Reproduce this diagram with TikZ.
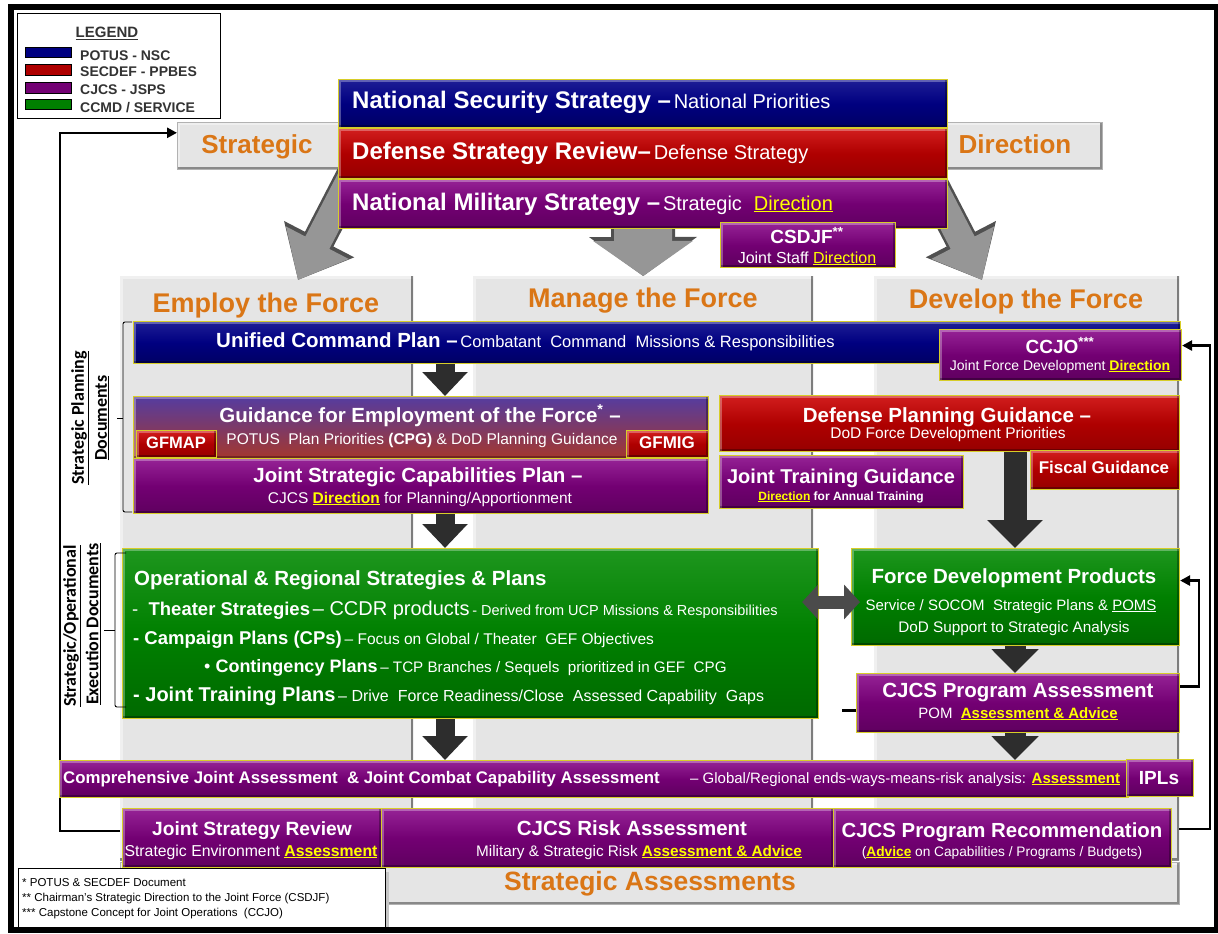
\documentclass[tikz,border=0pt]{standalone}
\usepackage{fontspec}
\setmainfont{Liberation Sans}
\newfontfamily\calfont{Carlito}
\usetikzlibrary{arrows.meta,calc}
\pgfdeclarelayer{base}
\pgfdeclarelayer{back}
\pgfsetlayers{base,back,main}

\definecolor{navyT}{RGB}{30,30,150}
\definecolor{navyM}{RGB}{0,0,128}
\definecolor{navyB}{RGB}{0,0,100}
\definecolor{redT}{RGB}{210,30,30}
\definecolor{redM}{RGB}{175,0,0}
\definecolor{redB}{RGB}{150,0,0}
\definecolor{purT}{RGB}{150,35,150}
\definecolor{purM}{RGB}{115,0,115}
\definecolor{purB}{RGB}{95,0,95}
\definecolor{grnT}{RGB}{30,150,30}
\definecolor{grnM}{RGB}{0,128,0}
\definecolor{grnB}{RGB}{0,105,0}
\definecolor{gefT}{RGB}{85,60,160}
\definecolor{gefB}{RGB}{165,55,45}
\definecolor{edge}{RGB}{215,205,40}
\definecolor{ylw}{RGB}{255,255,0}
\definecolor{orng}{RGB}{218,118,22}
\definecolor{colg}{RGB}{229,229,229}
\definecolor{legtxt}{RGB}{51,51,51}
\definecolor{blk}{RGB}{45,45,45}
\definecolor{dgry}{RGB}{75,75,75}
\definecolor{gFill}{RGB}{150,150,150}
\definecolor{gEdge}{RGB}{80,80,80}

\newcommand\fs[1]{\fontsize{#1}{#1}\selectfont}
\newcommand\yl[1]{\textcolor{ylw}{\underline{#1}}}
% \panel{style}{name}{x1}{y1}{x2}{y2}
\newcommand\panel[6]{\node[#1,minimum width={#5-#3},minimum height={#6-#4}] (#2) at (#3,#4) {};}

\begin{document}
\begin{tikzpicture}[x=1pt,y=-1pt,
  bev/.style={path picture={
    \draw[white,opacity=#1,line width=5pt] (path picture bounding box.south west) -- (path picture bounding box.north west) -- (path picture bounding box.north east);
    \draw[black,opacity=#1,line width=5pt] (path picture bounding box.north east) -- (path picture bounding box.south east) -- (path picture bounding box.south west);}},
  bev/.default=0.3,
  card/.style={draw=edge,line width=1.1pt,inner sep=0pt,anchor=north west,bev},
  navycard/.style={card,top color=navyT,bottom color=navyB,middle color=navyM},
  redcard/.style={card,top color=redT,bottom color=redB,middle color=redM},
  purcard/.style={card,top color=purT,bottom color=purB,middle color=purM},
  grncard/.style={card,top color=grnT,bottom color=grnB,middle color=grnM},
  gefcard/.style={card,top color=gefT,bottom color=gefB},
  colm/.style={fill=colg,anchor=north west,inner sep=0pt,bev=0.45},
  greybar/.style={fill=colg,draw=gray!60,line width=0.6pt,anchor=north west,inner sep=0pt,bev=0.4},
  whitebox/.style={fill=white,draw=black,line width=1.4pt,anchor=north west,inner sep=0pt},
  sw/.style={draw=black,line width=1pt,anchor=north west,inner sep=0pt},
  lgt/.style={text=legtxt,font=\bfseries\fs{14},inner sep=0pt,anchor=base west},
  wt/.style={text=white,inner sep=0pt,anchor=base},
  wtl/.style={text=white,inner sep=0pt,anchor=base west},
  org/.style={text=orng,inner sep=0pt,anchor=base,font=\bfseries\fs{27}},
  side/.style={rotate=90,inner sep=0pt,font=\calfont\bfseries\fs{18}},
  gOut/.style={draw=gEdge,line width=32pt,-{Triangle[width=76pt,length=46pt]}},
  gIn/.style={draw=gFill,line width=27pt,-{Triangle[width=68pt,length=42pt]}},
  gOutM/.style={draw=gEdge,line width=64pt,-{Triangle[width=106pt,length=39pt]}},
  gInM/.style={draw=gFill,line width=58pt,-{Triangle[width=98pt,length=35pt]}},
  blkA/.style={draw=blk,line width=19pt,-{Triangle[width=44pt,length=24pt]}},
  blkB/.style={draw=blk,line width=23pt,-{Triangle[width=54pt,length=28pt]}},
  blkC/.style={draw=blk,line width=21pt,-{Triangle[width=46pt,length=24pt]}},
  dbl/.style={draw=dgry,line width=13pt,{Triangle[width=34pt,length=16pt]}-{Triangle[width=34pt,length=16pt]}},
  fbk/.style={draw=black,line width=2.6pt,-{Triangle[width=10pt,length=10pt]}},
  fbline/.style={draw=black,line width=2.6pt},
  brk/.style={draw=black,line width=0.9pt,rounded corners=2pt}
]
\useasboundingbox (0,0) rectangle (1218,934);
\begin{pgfonlayer}{base}
  \fill[white] (0,0) rectangle (1218,934);
\end{pgfonlayer}

% ---------- legend ----------
\panel{whitebox}{legend}{17}{13}{220}{118}
\node[lgt,anchor=base,font=\bfseries\fs{15}] (legT) at (107,38) {\underline{LEGEND}};
\panel{sw,fill=navyM}{sw1}{25}{47}{71}{57}
\panel{sw,fill=redM}{sw2}{25}{64}{71}{75}
\panel{sw,fill=purM}{sw3}{25}{82}{71}{93}
\panel{sw,fill=grnM}{sw4}{25}{99}{71}{109}
\node[lgt] (lg1) at (80,60) {POTUS - NSC};
\node[lgt] (lg2) at (80,77) {SECDEF - PPBES};
\node[lgt] (lg3) at (80,95) {CJCS - JSPS};
\node[lgt] (lg4) at (80,112) {CCMD / SERVICE};

% ---------- strategic direction bar ----------
\panel{greybar}{sdbar}{177}{122}{1102}{169}
\node[org,font=\bfseries\fs{26}] (sdL) at (257,153) {Strategic};
\node[org,font=\bfseries\fs{26}] (sdR) at (1015,153) {Direction};

% ---------- three columns ----------
\panel{colm}{col1}{120}{276}{413}{860}
\panel{colm}{col2}{473}{276}{813}{860}
\panel{colm}{col3}{874}{276}{1179}{860}
\node[org] (c1T) at (266,312) {Employ the Force};
\node[org] (c2T) at (643,307) {Manage the Force};
\node[org] (c3T) at (1026,308) {Develop the Force};

% ---------- grey block arrows into the columns ----------
\coordinate (gaLs) at (355,170);
\coordinate (gaLt) at (298,280);
\coordinate (gaRs) at (925,170);
\coordinate (gaRt) at (982,280);
\coordinate (gaMs) at (643,200);
\draw[gOut] (gaLs) -- (gaLt);
\draw[gIn] (gaLs) -- (gaLt);
\draw[gOut] (gaRs) -- (gaRt);
\draw[gIn] (gaRs) -- (gaRt);
\draw[gOutM] (gaMs) -- (col2.north);
\draw[gInM] (gaMs) -- (col2.north);

% ---------- strategy stack ----------
\panel{navycard}{nss}{338}{79}{947}{127}
\panel{redcard}{dsr}{338}{128}{947}{178}
\panel{purcard}{nms}{338}{179}{947}{228}
\panel{purcard}{csdjf}{720}{222}{895}{267}
\node[wtl] (nssT) at (352,108) {{\fs{24}\bfseries National Security Strategy –} {\fs{20}National Priorities}};
\node[wtl] (dsrT) at (352,159) {{\fs{24}\bfseries Defense Strategy Review–} {\fs{20}Defense Strategy}};
\node[wtl] (nmsT) at (352,210) {{\fs{24}\bfseries National Military Strategy –} {\fs{20}Strategic\hspace{0.6em}\yl{Direction}}};
\node[wt,font=\bfseries\fs{19}] (csdjfT) at (807,243) {CSDJF\textsuperscript{**}};
\node[wt,font=\fs{16}] (csdjfS) at (807,263) {Joint Staff \yl{Direction}};

% ---------- strategic planning documents ----------
\panel{navycard}{ucp}{133}{321}{1180}{363}
\panel{purcard}{ccjo}{939}{329}{1181}{380}
\node[wtl] (ucpT) at (216,347) {{\fs{20.5}\bfseries Unified Command Plan –} {\fs{16.5}Combatant\ \ Command\ \ Missions \& Responsibilities}};
\node[wt,font=\bfseries\fs{19}] (ccjoT) at (1060,353) {CCJO\textsuperscript{***}};
\node[wt,font=\fs{14}] (ccjoS) at (1060,370) {Joint Force Development \yl{\bfseries Direction}};

\panel{gefcard}{gef}{133}{396}{708}{458}
\panel{purcard}{jscp}{133}{458}{708}{513}
\panel{redcard}{gfmap}{136}{430}{216}{457}
\panel{redcard}{gfmig}{626}{430}{708}{457}
\node[wt,font=\bfseries\fs{20.5}] (gefT) at (420,422) {Guidance for Employment of the Force\textsuperscript{*} –};
\node[wt,font=\fs{15.5}] (gefS) at (422,444) {POTUS\ \ Plan Priorities \textbf{(CPG)} \& DoD Planning Guidance};
\node[wt,font=\bfseries\fs{16.5}] (gfmapT) at (176,448) {GFMAP};
\node[wt,font=\bfseries\fs{17}] (gfmigT) at (667,448) {GFMIG};
\node[wt,font=\bfseries\fs{20.5}] (jscpT) at (418,482) {Joint Strategic Capabilities Plan –};
\node[wt,font=\fs{15.5}] (jscpS) at (420,503) {CJCS \yl{\bfseries Direction} for Planning/Apportionment};

\panel{redcard}{dpg}{719}{395}{1179}{451}
\panel{purcard}{jtg}{719}{455}{963}{508}
\panel{redcard}{fiscal}{1030}{450}{1179}{489}
\node[wt,font=\bfseries\fs{20.5}] (dpgT) at (947,422) {Defense Planning Guidance –};
\node[wt,font=\fs{15.5}] (dpgS) at (948,438) {DoD Force Development Priorities};
\node[wt,font=\bfseries\fs{20}] (jtgT) at (841,483) {Joint Training Guidance};
\node[wt,font=\bfseries\fs{12}] (jtgS) at (841,500) {\yl{Direction} for Annual Training};
\node[wt,font=\bfseries\fs{17}] (fiscalT) at (1104,473) {Fiscal Guidance};

% ---------- execution documents ----------
\panel{grncard}{ops}{122}{548}{818}{718}
\panel{grncard}{fdp}{851}{548}{1179}{645}
\panel{purcard}{cjpa}{856}{673}{1179}{732}
\node[wtl,font=\bfseries\fs{20.5}] (opsT) at (134,585) {Operational \& Regional\ Strategies \& Plans};
\node[wtl] (ops1) at (132,615) {{\fs{18.5}-\ \ \textbf{Theater Strategies}} {\fs{20}– CCDR products} {\fs{14.5}- Derived from UCP Missions \& Responsibilities}};
\node[wtl] (ops2) at (133,644) {{\fs{18.5}\bfseries - Campaign Plans (CPs)} {\fs{15.5}– Focus on Global / Theater\ \ GEF Objectives}};
\node[wtl] (ops3) at (204,672) {{\fs{18}•\ \textbf{Contingency Plans}} {\fs{15.2}– TCP Branches / Sequels\ \ prioritized in GEF\ \ CPG}};
\node[wtl] (ops4) at (133,701) {{\fs{20}\bfseries - Joint Training Plans} {\fs{16}– Drive\ \ Force Readiness/Close\ \ Assessed Capability\ \ Gaps}};
\node[wt,font=\bfseries\fs{20.5}] (fdpT) at (1014,583) {Force Development Products};
\node[wt,font=\fs{15}] (fdp1) at (1011,610) {Service / SOCOM\ \ Strategic Plans \& \underline{POMS}};
\node[wt,font=\fs{15.3}] (fdp2) at (1014,632) {DoD Support to Strategic Analysis};
\node[wt,font=\bfseries\fs{20.5}] (cjpaT) at (1018,697) {CJCS Program Assessment};
\node[wt,font=\fs{15}] (cjpaS) at (1018,718) {POM\ \ \yl{\bfseries Assessment \& Advice}};

% ---------- assessments ----------
\panel{purcard}{cja}{59}{760}{1128}{797}
\panel{purcard}{ipls}{1126}{759}{1193}{796}
\node[wtl,font=\bfseries\fs{16.8}] (cjaT) at (63,783) {Comprehensive Joint Assessment\ \ \& Joint Combat Capability Assessment};
\node[wtl,font=\fs{15}] (cjaS) at (690,783) {– Global/Regional ends-ways-means-risk analysis: \yl{\bfseries Assessment}};
\node[wt,font=\bfseries\fs{19}] (iplsT) at (1159,784) {IPLs};

\panel{greybar}{sabar}{120}{862}{1179}{904}
\node[org,font=\bfseries\fs{26.5}] (saT) at (650,890) {Strategic Assessments};
\panel{purcard}{jsr}{122}{808}{381}{867}
\panel{purcard}{risk}{381}{808}{833}{867}
\panel{purcard}{cjpr}{833}{808}{1171}{867}
\node[wt,font=\bfseries\fs{19.2}] (jsrT) at (252,835) {Joint Strategy Review};
\node[wt,font=\fs{15.8}] (jsrS) at (251,856) {Strategic Environment \yl{\bfseries Assessment}};
\node[wt,font=\bfseries\fs{20.5}] (riskT) at (632,835) {CJCS Risk Assessment};
\node[wt,font=\fs{15.3}] (riskS) at (639,856) {Military \& Strategic Risk \yl{\bfseries Assessment \& Advice}};
\node[wt,font=\bfseries\fs{20.4}] (cjprT) at (1002,837) {CJCS Program Recommendation};
\node[wt,font=\fs{13.7}] (cjprS) at (1002,856) {(\yl{\bfseries Advice} on Capabilities / Programs / Budgets)};

% ---------- footnotes ----------
\fill[gray!45] (22,872) rectangle (389,931);
\panel{whitebox}{notes}{18}{868}{385}{927}
\node[inner sep=0pt,anchor=base west,font=\fs{11.5}] (n1) at (22,886) {* POTUS \& SECDEF Document};
\node[inner sep=0pt,anchor=base west,font=\fs{11.5}] (n2) at (22,901) {** Chairman's Strategic Direction to the Joint Force (CSDJF)};
\node[inner sep=0pt,anchor=base west,font=\fs{11.5}] (n3) at (22,916) {*** Capstone Concept for Joint Operations\ \ (CCJO)};

% ---------- flow arrows ----------
\coordinate (axL) at (445,0);
\coordinate (axR) at (1015,0);
\coordinate (dbly) at (0,602);
\draw[blkA] (ucp.south -| axL) -- (gef.north -| axL);
\draw[blkA] (jscp.south -| axL) -- (ops.north -| axL);
\draw[blkA] (ops.south -| axL) -- (cja.north -| axL);
\draw[blkB] (dpg.south -| axR) -- (fdp.north -| axR);
\draw[blkC] (fdp.south -| axR) -- (cjpa.north -| axR);
\draw[blkC] (cjpa.south -| axR) -- (cja.north -| axR);
\coordinate (dblA) at ([xshift=-17pt]ops.east);
\coordinate (dblB) at ([xshift=9pt]fdp.west);
\draw[dbl] (dblA |- dbly) -- (dblB |- dbly);
\draw[fbline] ([yshift=-7.5pt]cjpa.west) -- ++(-14,0);

% ---------- feedback loops ----------
\begin{pgfonlayer}{back}
  \coordinate (fbL) at (60,0);
  \coordinate (fbR) at (1210,0);
  \coordinate (fbR2) at (1199,0);
  \coordinate (fbA) at ([yshift=7pt]jsr.west);
  \coordinate (fbB) at ([yshift=13pt]sdbar.west);
  \draw[fbk] (fbA) -- (fbA -| fbL) -- (fbB -| fbL) -- (fbB);
  \coordinate (fbC) at ([yshift=9pt]cjpr.east);
  \coordinate (fbD) at ([yshift=9.5pt]ccjo.east);
  \draw[fbk] (fbC) -- (fbC -| fbR) -- (fbD -| fbR) -- (fbD);
  \coordinate (fbE) at ([yshift=16.5pt]cjpa.east);
  \coordinate (fbF) at ([yshift=16.5pt]fdp.east);
  \draw[fbk] (fbE) -- (fbE -| fbR2) -- (fbF -| fbR2) -- (fbF);
\end{pgfonlayer}

% ---------- document brackets ----------
\draw[brk] (132,322) -- (123,322) -- (123,512) -- (132,512);
\draw[brk] (123,418) -- (117,418);
\draw[brk] (126,553) -- (115,553) -- (115,707) -- (126,707);
\draw[brk] (115,630) -- (104,630);
\node[side] (sp1) at (80,418) {\underline{Strategic Planning}};
\node[side] (sp2) at (102,418) {\underline{Documents}};
\node[side] (se1) at (72,626) {\underline{Strategic/Operational}};
\node[side] (se2) at (93,624) {\underline{Execution Documents}};

% ---------- outer frame ----------
\draw[line width=6pt] (11,7) rectangle (1217,930);
\end{tikzpicture}
\end{document}
